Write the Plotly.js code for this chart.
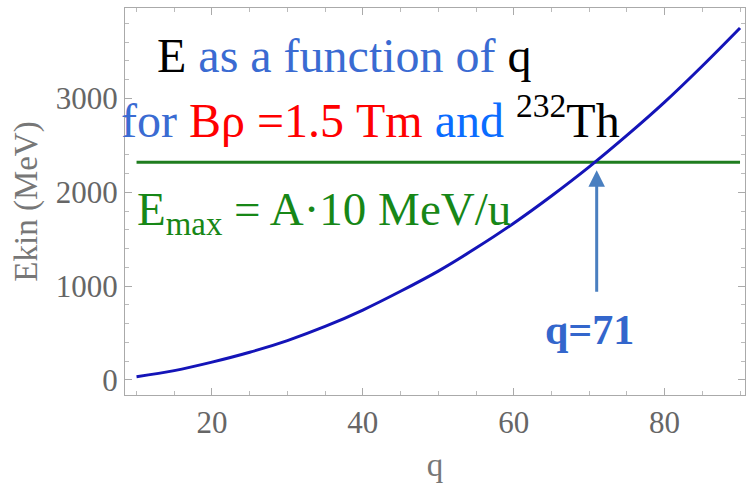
<!DOCTYPE html>
<html>
<head>
<meta charset="utf-8">
<script src="https://cdn.plot.ly/plotly-3.0.1.min.js"></script>
<style>html,body{margin:0;padding:0;background:#fff;}#chart{width:747px;height:485px;}</style>
</head>
<body>
<div id="chart"></div>
<script>
// Charge state q and kinetic energy (MeV)
const qValues = [10, 15, 20, 25, 30, 35, 40, 45, 50, 55, 60, 65, 70, 75, 80, 85, 90];
const ekinValues = [35, 100, 190, 295, 420, 570, 745, 945, 1160, 1405, 1670, 1960, 2270, 2605, 2960, 3345, 3750];
// Emax = A * 10 MeV/u for 232Th
const emaxQ = [10, 90];
const emaxValues = [2320, 2320];
// Arrow marking the crossing
const crossQ = 71;
const arrowTail = 925;
const arrowHead = 2234;
const xTickVals = [20, 40, 60, 80];
const yTickVals = [0, 1000, 2000, 3000];

const serif = 'Liberation Serif, Times New Roman, serif';
const L = 125, T = 8, W = 620, H = 387;
const px = x => (x - L) / W;
const py = y => (T + H - y) / H;

const traces = [
  {x: emaxQ, y: emaxValues, mode: 'lines', line: {color: '#1f7d1f', width: 3}, hoverinfo: 'none'},
  {x: qValues, y: ekinValues, mode: 'lines', line: {color: '#1414b8', width: 3, shape: 'spline'}, hoverinfo: 'none'}
];

const layout = {
  width: 747, height: 485,
  margin: {l: L, r: 747 - L - W, t: T, b: 485 - T - H},
  paper_bgcolor: '#fff', plot_bgcolor: '#fff',
  showlegend: false,
  font: {family: serif, color: '#666'},
  xaxis: {
    range: [8.47, 90.66], tickvals: xTickVals, ticktext: xTickVals.map(String),
    showgrid: false, zeroline: false, showline: true, linecolor: '#aaa', linewidth: 1, mirror: 'allticks',
    ticks: 'inside', ticklen: 7, tickcolor: '#aaa', tickwidth: 1,
    minor: {dtick: 5, ticks: 'inside', ticklen: 4, tickcolor: '#bbb', showgrid: false},
    tickfont: {family: serif, size: 31, color: '#666'},
    title: {text: 'q', font: {family: serif, size: 33, color: '#777'}, standoff: 13}
  },
  yaxis: {
    range: [-160, 3963], tickvals: yTickVals, ticktext: yTickVals.map(String),
    showgrid: false, zeroline: false, showline: true, linecolor: '#aaa', linewidth: 1, mirror: 'allticks',
    ticks: 'inside', ticklen: 7, tickcolor: '#aaa', tickwidth: 1,
    minor: {dtick: 200, ticks: 'inside', ticklen: 4, tickcolor: '#bbb', showgrid: false},
    tickfont: {family: serif, size: 31, color: '#666'},
    title: {text: 'Ekin (MeV)', font: {family: serif, size: 33, color: '#777'}, standoff: 8}
  },
  annotations: [
    {xref: 'paper', yref: 'paper', x: px(155), y: py(55), xanchor: 'left', yanchor: 'middle', showarrow: false,
     font: {family: serif, size: 48, color: '#000'},
     text: 'E <span style="color:#3a6bd2">as a function of</span> q'},
    {xref: 'paper', yref: 'paper', x: px(119), y: py(117), xanchor: 'left', yanchor: 'middle', showarrow: false,
     font: {family: serif, size: 48, color: '#3a6bd2'},
     text: 'for <span style="color:#ff0000">Bρ =1.5 Tm</span> <span style="color:#0a6cff">and</span> <span style="color:#000"><sup>232</sup>Th</span>'},
    {xref: 'paper', yref: 'paper', x: px(135), y: py(212), xanchor: 'left', yanchor: 'middle', showarrow: false,
     font: {family: serif, size: 47, color: '#178717'},
     text: 'E<sub>max</sub> = A·10 MeV/u'},
    {xref: 'paper', yref: 'paper', x: px(543), y: py(330), xanchor: 'left', yanchor: 'middle', showarrow: false,
     font: {family: serif, size: 42, color: '#3366cc'},
     text: '<b>q=71</b>'},
    {xref: 'x', yref: 'y', x: crossQ, y: arrowHead, axref: 'x', ayref: 'y', ax: crossQ, ay: arrowTail,
     text: '', showarrow: true, arrowhead: 2, arrowsize: 1.1, arrowwidth: 3, arrowcolor: '#4a7fc0', standoff: 0}
  ]
};

Plotly.newPlot('chart', traces, layout, {displayModeBar: false, staticPlot: true});
</script>
</body>
</html>
